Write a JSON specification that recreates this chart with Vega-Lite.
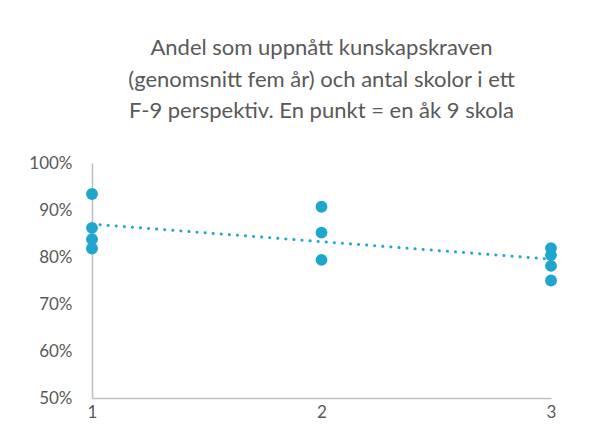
{
  "$schema": "https://vega.github.io/schema/vega-lite/v6.json",
  "width": 459,
  "height": 235,
  "autosize": {"type": "none"},
  "padding": {"left": 92, "top": 163, "right": 39, "bottom": 50},
  "background": "white",
  "config": {"view": {"stroke": null}, "font": "Lato"},
  "title": {
    "text": ["Andel som uppnått kunskapskraven", "(genomsnitt fem år) och antal skolor i ett", "F-9 perspektiv. En punkt = en åk 9 skola"],
    "fontSize": 22,
    "fontWeight": "normal",
    "color": "#595959",
    "lineHeight": 31.5,
    "anchor": "middle",
    "offset": 31,
    "font": "Lato"
  },
  "data": {
    "values": [
      {"skolor": 1, "andel": 0.934},
      {"skolor": 1, "andel": 0.862},
      {"skolor": 1, "andel": 0.838},
      {"skolor": 1, "andel": 0.818},
      {"skolor": 2, "andel": 0.907},
      {"skolor": 2, "andel": 0.852},
      {"skolor": 2, "andel": 0.794},
      {"skolor": 3, "andel": 0.819},
      {"skolor": 3, "andel": 0.804},
      {"skolor": 3, "andel": 0.781},
      {"skolor": 3, "andel": 0.750}
    ]
  },
  "encoding": {
    "x": {
      "field": "skolor", "type": "quantitative",
      "scale": {"domain": [1, 3], "nice": false, "zero": false},
      "axis": {"title": null, "tickCount": 2, "format": "d", "grid": false, "ticks": false,
               "domainColor": "#bfbfbf", "domainWidth": 1.5, "labelColor": "#595959", "labelFontSize": 17,
               "labelPadding": 6, "labelFont": "Lato", "labelFlush": false, "labelOverlap": false}
    },
    "y": {
      "field": "andel", "type": "quantitative",
      "scale": {"domain": [0.5, 1.0], "nice": false, "zero": false},
      "axis": {"title": null, "values": [0.5, 0.6, 0.7, 0.8, 0.9, 1.0], "format": ".0%", "grid": false, "ticks": false,
               "domainColor": "#bfbfbf", "domainWidth": 1.5, "labelColor": "#595959", "labelFontSize": 17,
               "labelPadding": 20, "labelFont": "Lato", "labelOverlap": false}
    }
  },
  "layer": [
    {
      "mark": {"type": "line", "color": "#1ea6cf", "strokeWidth": 3, "strokeCap": "round", "strokeDash": [0.1, 8]},
      "transform": [{"regression": "andel", "on": "skolor", "extent": [1, 3]}]
    },
    {
      "mark": {"type": "circle", "color": "#1ea6cf", "opacity": 1, "size": 140}
    }
  ]
}
